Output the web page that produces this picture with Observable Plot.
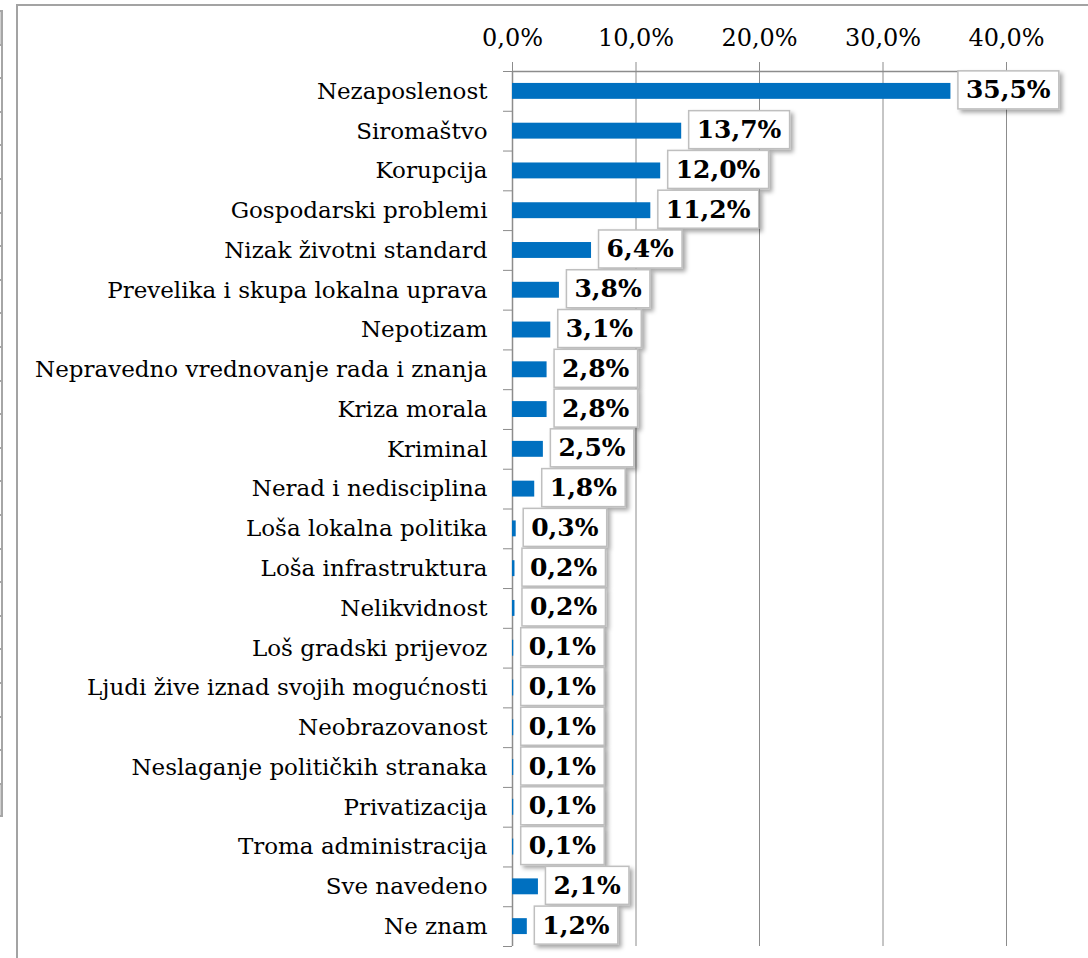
<!DOCTYPE html>
<html>
<head>
<meta charset="utf-8">
<script src="https://cdn.jsdelivr.net/npm/d3@7"></script>
<script src="https://cdn.jsdelivr.net/npm/@observablehq/plot@0.6"></script>
<style>
  html, body { margin: 0; padding: 0; background: #fff; overflow: hidden; }
  #wrap { position: relative; width: 1088px; height: 958px; overflow: hidden; }
  #frame { position: absolute; left: 16px; top: 4px; width: 1200px; height: 1200px; border: 2px solid #a3a3a3; box-sizing: border-box; }
  #strip { position: absolute; left: 0; top: 10px; }
  .cell { position: absolute; left: 0; width: 3px; border-right: 2px solid #a6a6a6; border-top: 2px solid #a6a6a6; box-sizing: border-box; }
  #chart { position: absolute; left: 0; top: 0; }
</style>
</head>
<body>
<div id="wrap">
  <div id="frame"></div>
  <div id="strip"></div>
  <div id="chart"></div>
</div>
<script>
const categories = [
  "Nezaposlenost", "Siromaštvo", "Korupcija", "Gospodarski problemi",
  "Nizak životni standard", "Prevelika i skupa lokalna uprava", "Nepotizam",
  "Nepravedno vrednovanje rada i znanja", "Kriza morala", "Kriminal",
  "Nerad i nedisciplina", "Loša lokalna politika", "Loša infrastruktura",
  "Nelikvidnost", "Loš gradski prijevoz", "Ljudi žive iznad svojih mogućnosti",
  "Neobrazovanost", "Neslaganje političkih stranaka", "Privatizacija",
  "Troma administracija", "Sve navedeno", "Ne znam"
];
const values = [35.5, 13.7, 12.0, 11.2, 6.4, 3.8, 3.1, 2.8, 2.8, 2.5, 1.8, 0.3, 0.2, 0.2, 0.1, 0.1, 0.1, 0.1, 0.1, 0.1, 2.1, 1.2];
const xTicks = [0, 10, 20, 30, 40];

const data = categories.map((c, i) => ({category: c, value: values[i]}));
const fmt = v => v.toFixed(1).replace(".", ",") + "%";

// decorative strip at left edge
const strip = document.getElementById("strip");
for (let i = 0; i < 24; i++) {
  const d = document.createElement("div");
  d.className = "cell";
  d.style.top = (i * 33.6) + "px";
  d.style.height = "34px";
  if (i === 0 || i === 23) d.style.background = "#d0d0d0";
  if (i === 23) d.style.borderBottom = "2px solid #a6a6a6";
  strip.appendChild(d);
}

const W = 1088, H = 958;
const mTop = 71, mBottom = 12, mLeft = 512, mRight = 82;
const step = (H - mTop - mBottom) / categories.length;
const gridColor = "#8c8c8c";

const chart = Plot.plot({
  width: W,
  height: H,
  marginTop: mTop,
  marginBottom: mBottom,
  marginLeft: mLeft,
  marginRight: mRight,
  style: {fontFamily: "'DejaVu Serif', serif", background: "transparent", overflow: "visible"},
  x: {domain: [0, 40], axis: null},
  y: {domain: categories, paddingInner: 0.6, paddingOuter: 0.3, round: false, axis: null},
  marks: [
    Plot.gridX(xTicks, {stroke: gridColor, strokeOpacity: 1, strokeWidth: 1}),
    Plot.axisX(xTicks, {anchor: "top", tickSize: 10, tickPadding: 16, stroke: gridColor,
      tickFormat: d => d.toFixed(1).replace(".", ",") + "%", fontSize: 24, fill: "#000", label: null}),
    Plot.ruleY([categories[0]], {stroke: gridColor, dy: -step / 2, strokeWidth: 1.5}),
    Plot.ruleX([0], {stroke: gridColor, strokeWidth: 1.5}),
    Plot.axisY(categories, {anchor: "left", tickSize: 9, text: null, stroke: gridColor, dy: -step / 2, label: null}),
    Plot.axisY([categories[categories.length - 1]], {anchor: "left", tickSize: 9, text: null, stroke: gridColor, dy: step / 2, label: null}),
    Plot.axisY(categories, {anchor: "left", tickSize: 0, tickPadding: 25, fontSize: 23, fill: "#000", label: null}),
    Plot.barX(data, {x: "value", y: "category", fill: "#0070C0"}),
    Plot.text(data, {x: "value", y: "category", text: d => fmt(d.value), textAnchor: "start",
      dx: 15, dy: -1, fontSize: 25, fontWeight: "bold", fill: "#000", className: "vlabel"})
  ]
});
document.getElementById("chart").appendChild(chart);

// add boxed backgrounds with shadows behind value labels
const svg = d3.select(chart);
const defs = svg.insert("defs", ":first-child");
const f = defs.append("filter").attr("id", "shadow").attr("x", "-20%").attr("y", "-30%").attr("width", "150%").attr("height", "170%");
f.append("feDropShadow").attr("dx", 3).attr("dy", 3).attr("stdDeviation", 2).attr("flood-color", "#000").attr("flood-opacity", 0.35);

const g = svg.select("g.vlabel");
g.selectAll("text").each(function() {
  const t = this;
  const bb = t.getBBox();
  const tr = t.getAttribute("transform");
  const grp = document.createElementNS("http://www.w3.org/2000/svg", "g");
  t.parentNode.insertBefore(grp, t);
  const r = document.createElementNS("http://www.w3.org/2000/svg", "rect");
  const padX = 8;
  const cy = bb.y + bb.height / 2;
  r.setAttribute("x", bb.x - padX);
  r.setAttribute("y", cy - 19);
  r.setAttribute("width", bb.width + 2 * padX);
  r.setAttribute("height", 38);
  r.setAttribute("fill", "#fff");
  r.setAttribute("stroke", "#bfbfbf");
  r.setAttribute("stroke-width", 1.5);
  r.setAttribute("filter", "url(#shadow)");
  if (tr) r.setAttribute("transform", tr);
  grp.appendChild(r);
  grp.appendChild(t);
});
</script>
</body>
</html>
